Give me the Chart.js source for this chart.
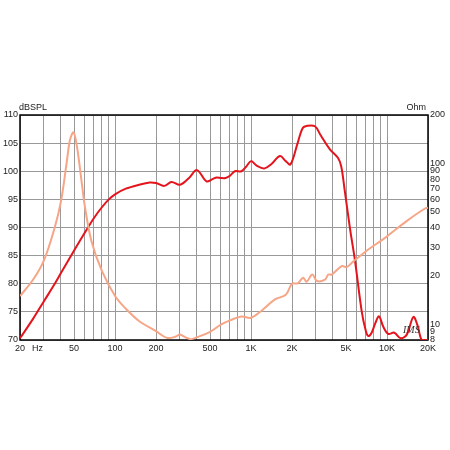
<!DOCTYPE html>
<html>
<head>
<meta charset="utf-8">
<script src="https://cdn.jsdelivr.net/npm/chart.js@4/dist/chart.umd.min.js"></script>
<style>
  body { margin: 0; background: #fff; }
  #wrap { width: 450px; height: 450px; }
</style>
</head>
<body>
<div id="wrap"><canvas id="chart"></canvas></div>
<script>
// SPL curve (dB) against frequency (Hz)
const splFreq = [20, 25, 30, 35, 40, 50, 60, 70, 80, 90, 100, 120, 150, 180, 200, 230, 260, 300, 350, 400,
  470, 520, 560, 600, 650, 700, 760, 850, 920, 1000, 1100, 1250, 1400, 1630, 1800, 1950, 2200, 2400, 2600,
  2950, 3250, 3800, 4350, 4600, 4870, 5340, 5820, 6510, 7000, 7280, 7700, 8200, 8720, 9400, 10200, 11300,
  12600, 14000, 15600, 16800, 18000, 20000];
const splValues = [70.3, 73.8, 76.9, 79.5, 81.9, 85.9, 89.1, 91.7, 93.6, 95.0, 95.9, 96.9, 97.6, 98.0, 97.9,
  97.4, 98.1, 97.6, 98.8, 100.2, 98.2, 98.6, 98.9, 98.8, 98.8, 99.2, 100.0, 100.0, 100.8, 101.8, 101.0,
  100.5, 101.2, 102.7, 101.8, 101.2, 105.0, 107.7, 108.1, 108.0, 106.4, 103.9, 102.4, 100.9, 96.8, 89.8,
  84.0, 75.1, 71.5, 70.7, 71.3, 73.0, 74.2, 72.3, 71.1, 71.3, 70.3, 71.0, 74.1, 72.5, 70.0, 70.0];

// Impedance curve (Ohm) against frequency (Hz)
const impFreq = [20, 25, 30, 36, 40, 44, 46.6, 49.5, 52.4, 57, 60, 67, 80, 100, 120, 150, 200, 240, 280,
  300, 330, 360, 400, 500, 600, 700, 850, 1000, 1200, 1500, 1800, 2000, 2200, 2420, 2560, 2820, 3050,
  3500, 3700, 3920, 4640, 5050, 5490, 7000, 9660, 14000, 19000, 20000];
const impValues = [15.0, 19.0, 25.0, 40.0, 58.0, 100, 140, 156, 128, 75, 54, 33, 21.5, 15.0, 12.5, 10.5,
  9.07, 8.25, 8.4, 8.65, 8.3, 8.1, 8.33, 9.0, 9.98, 10.6, 11.2, 11.0, 12.2, 14.3, 15.3, 17.9, 18.0, 19.5,
  18.4, 20.4, 18.6, 19.0, 20.4, 20.4, 23.0, 22.7, 24.1, 28.5, 34.5, 44.0, 52.5, 53.0];

// Axis ticks
const freqGrid = [20, 30, 40, 50, 60, 70, 80, 90, 100, 200, 300, 400, 500, 600, 700, 800, 900,
  1000, 2000, 3000, 4000, 5000, 6000, 7000, 8000, 9000, 10000, 20000];
const freqLabels = { 20: '20', 50: '50', 100: '100', 200: '200', 500: '500', 1000: '1K', 2000: '2K',
  5000: '5K', 10000: '10K', 20000: '20K' };
const ohmTicks = [8, 9, 10, 20, 30, 40, 50, 60, 70, 80, 90, 100, 200];

const font = { family: 'Liberation Sans, Arial, sans-serif', size: 9 };
const gridGray = '#999999';

const extras = {
  id: 'extras',
  beforeDatasetsDraw(chart) {
    const { ctx, chartArea: a } = chart;
    ctx.save();
    ctx.strokeStyle = '#000';
    ctx.lineWidth = 1.5;
    ctx.strokeRect(a.left, a.top, a.right - a.left, a.bottom - a.top);
    ctx.restore();
  },
  afterDraw(chart) {
    const { ctx, chartArea: a } = chart;
    ctx.save();
    ctx.fillStyle = '#222';
    ctx.font = '9px Liberation Sans, Arial, sans-serif';
    ctx.textBaseline = 'alphabetic';
    ctx.textAlign = 'left';
    ctx.fillText('dBSPL', a.left - 1, a.top - 5);
    ctx.fillText('Hz', 32, a.bottom + 11);
    ctx.textAlign = 'right';
    ctx.fillText('Ohm', a.right - 2, a.top - 5);
    ctx.fillStyle = '#333';
    ctx.font = 'italic 10px Liberation Serif, serif';
    ctx.textAlign = 'left';
    ctx.fillText('IMS', 403, 333);
    ctx.restore();
  }
};

new Chart(document.getElementById('chart'), {
  type: 'line',
  data: {
    datasets: [{
      label: 'Impedance',
      data: impFreq.map((f, i) => ({ x: f, y: impValues[i] })),
      yAxisID: 'yOhm',
      borderColor: '#f7a587',
      borderWidth: 2,
      pointRadius: 0,
      tension: 0.35
    }, {
      label: 'SPL',
      data: splFreq.map((f, i) => ({ x: f, y: splValues[i] })),
      yAxisID: 'y',
      borderColor: '#e3141c',
      borderWidth: 2,
      pointRadius: 0,
      tension: 0.35
    }]
  },
  options: {
    responsive: true,
    maintainAspectRatio: false,
    animation: false,
    layout: { padding: { top: 115, bottom: 90, left: 0, right: 0 } },
    plugins: { legend: { display: false }, tooltip: { enabled: false } },
    scales: {
      x: {
        type: 'logarithmic',
        min: 20,
        max: 20000,
        afterBuildTicks: s => { s.ticks = freqGrid.map(v => ({ value: v })); },
        afterFit: s => { s.height = 20; },
        grid: { color: gridGray, drawTicks: false },
        border: { display: false },
        ticks: {
          autoSkip: false,
          maxRotation: 0,
          padding: 3,
          color: '#222',
          font: font,
          callback: v => freqLabels[v] || ''
        }
      },
      y: {
        position: 'left',
        min: 70,
        max: 110,
        afterBuildTicks: s => { s.ticks = [70, 75, 80, 85, 90, 95, 100, 105, 110].map(v => ({ value: v })); },
        afterFit: s => { s.width = 20; },
        grid: { color: gridGray, drawTicks: false },
        border: { display: false },
        ticks: { padding: 2, color: '#222', font: font }
      },
      yOhm: {
        type: 'logarithmic',
        position: 'right',
        min: 8,
        max: 200,
        afterBuildTicks: s => { s.ticks = ohmTicks.map(v => ({ value: v })); },
        afterFit: s => { s.width = 22; },
        grid: { display: false, drawTicks: false },
        border: { display: false },
        ticks: { padding: 2, color: '#222', font: font, autoSkip: false, callback: v => String(v) }
      }
    }
  },
  plugins: [extras]
});
</script>
</body>
</html>
